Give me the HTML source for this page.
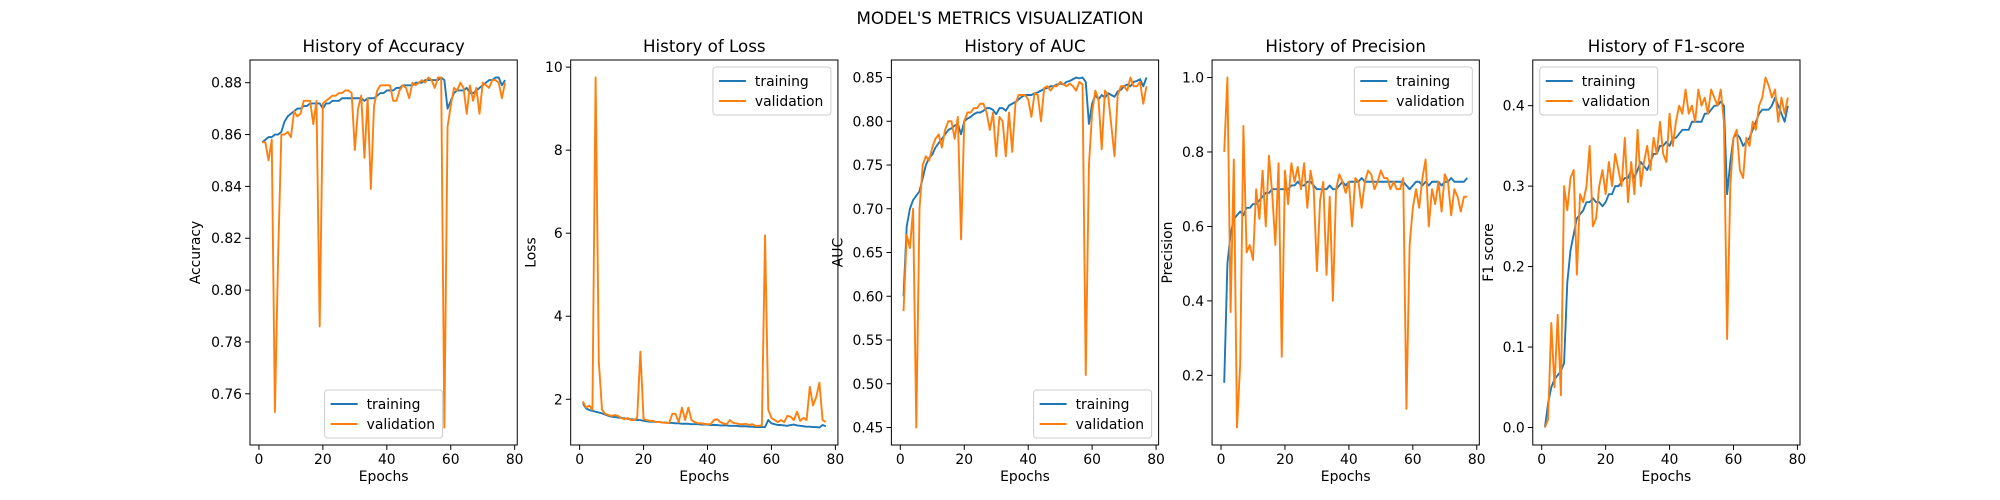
<!DOCTYPE html>
<html><head><meta charset="utf-8"><style>
html,body{margin:0;padding:0;background:#fff}
svg{display:block;font-family:"DejaVu Sans","Liberation Sans",sans-serif}
</style></head><body>
<svg id="fig" width="2000" height="500" viewBox="0 0 2000 500" xmlns="http://www.w3.org/2000/svg">
<text x="1000" y="24" text-anchor="middle" font-size="16.7">MODEL'S METRICS VISUALIZATION</text>
</svg>
<script>
const epochs = Array.from({length:77},(_,i)=>i+1);
const accTrain=[.857,.858,.859,.859,.860,.860,.861,.865,.867,.868,.869,.870,.870,.871,.871,.872,.872,.872,.872,.870,.872,.872,.873,.873,.873,.874,.874,.874,.874,.874,.874,.874,.873,.874,.874,.874,.875,.876,.876,.877,.877,.877,.878,.878,.879,.879,.879,.879,.880,.880,.880,.881,.881,.881,.881,.881,.882,.881,.870,.873,.876,.877,.877,.877,.878,.876,.876,.877,.878,.879,.880,.881,.881,.882,.882,.879,.881];
const accVal=[.857,.857,.850,.858,.753,.813,.860,.860,.861,.859,.869,.867,.868,.873,.873,.873,.864,.873,.786,.872,.873,.874,.875,.875,.876,.876,.877,.877,.876,.854,.870,.875,.851,.874,.839,.871,.877,.879,.879,.879,.879,.873,.873,.877,.879,.878,.874,.880,.879,.880,.881,.880,.882,.881,.878,.882,.882,.747,.863,.871,.878,.877,.880,.878,.868,.879,.873,.878,.868,.880,.879,.878,.881,.881,.880,.874,.880];
const lossTrain=[1.90,1.78,1.74,1.72,1.70,1.68,1.66,1.63,1.60,1.58,1.57,1.56,1.55,1.54,1.53,1.52,1.51,1.50,1.50,1.48,1.47,1.46,1.46,1.45,1.45,1.44,1.44,1.43,1.43,1.42,1.42,1.41,1.41,1.41,1.40,1.40,1.40,1.39,1.39,1.39,1.38,1.38,1.38,1.37,1.37,1.37,1.36,1.36,1.36,1.35,1.35,1.35,1.34,1.34,1.33,1.33,1.33,1.33,1.50,1.42,1.40,1.38,1.38,1.37,1.36,1.38,1.39,1.37,1.36,1.35,1.34,1.34,1.33,1.33,1.32,1.38,1.35];
const lossVal=[1.95,1.80,1.85,1.75,9.75,2.90,1.75,1.65,1.62,1.60,1.62,1.60,1.55,1.52,1.55,1.50,1.50,1.55,3.15,1.52,1.50,1.48,1.48,1.45,1.45,1.44,1.43,1.43,1.65,1.65,1.45,1.80,1.50,1.80,1.50,1.45,1.42,1.42,1.41,1.40,1.40,1.50,1.52,1.45,1.42,1.40,1.50,1.43,1.42,1.40,1.40,1.41,1.38,1.40,1.36,1.36,1.37,5.95,1.75,1.55,1.50,1.45,1.50,1.45,1.60,1.58,1.50,1.70,1.48,1.55,1.50,2.30,1.85,2.05,2.40,1.50,1.45];
const aucTrain=[.600,.680,.700,.710,.715,.720,.735,.750,.758,.762,.770,.775,.780,.785,.790,.792,.795,.797,.785,.800,.803,.805,.808,.810,.810,.812,.815,.815,.813,.808,.815,.815,.812,.818,.820,.822,.825,.828,.830,.830,.830,.832,.833,.835,.837,.838,.840,.840,.842,.843,.842,.845,.846,.848,.850,.849,.850,.845,.797,.820,.830,.825,.830,.827,.832,.830,.828,.834,.836,.840,.842,.840,.845,.846,.848,.840,.850];
const aucVal=[.583,.670,.655,.700,.450,.700,.750,.760,.755,.770,.780,.785,.770,.790,.800,.800,.780,.805,.665,.800,.810,.810,.815,.815,.820,.820,.810,.790,.810,.760,.805,.800,.760,.810,.765,.820,.830,.830,.830,.825,.805,.832,.830,.800,.838,.840,.835,.840,.840,.845,.842,.840,.843,.840,.835,.845,.842,.510,.750,.810,.835,.825,.768,.835,.830,.795,.760,.830,.840,.840,.835,.850,.840,.840,.845,.820,.840];
const precTrain=[.18,.50,.58,.62,.63,.64,.63,.65,.65,.66,.66,.67,.68,.69,.69,.70,.70,.70,.70,.70,.70,.71,.71,.72,.71,.71,.72,.72,.71,.70,.70,.70,.70,.71,.70,.70,.71,.72,.71,.72,.72,.72,.72,.73,.72,.72,.72,.72,.72,.72,.72,.72,.72,.72,.72,.72,.72,.71,.70,.71,.72,.72,.71,.72,.71,.72,.72,.72,.71,.72,.72,.73,.72,.72,.72,.72,.73];
const precVal=[.80,1.00,.37,.78,.06,.23,.87,.53,.55,.51,.70,.62,.75,.60,.79,.69,.55,.77,.25,.75,.66,.77,.72,.76,.70,.77,.65,.75,.70,.48,.67,.72,.47,.68,.40,.70,.74,.72,.69,.72,.60,.73,.72,.65,.72,.75,.74,.70,.72,.75,.73,.73,.70,.72,.70,.70,.73,.11,.55,.65,.70,.65,.73,.78,.60,.70,.66,.72,.64,.74,.72,.63,.70,.68,.64,.68,.68];
const f1Train=[.00,.03,.05,.06,.065,.07,.08,.18,.22,.24,.26,.265,.27,.28,.28,.285,.28,.28,.275,.28,.29,.29,.30,.30,.305,.31,.31,.32,.31,.32,.33,.325,.32,.33,.34,.34,.35,.35,.355,.35,.36,.36,.365,.37,.37,.37,.38,.38,.38,.38,.39,.39,.395,.40,.40,.405,.40,.29,.33,.36,.365,.36,.35,.355,.36,.37,.38,.39,.395,.395,.395,.40,.41,.40,.39,.38,.40];
const f1Val=[.00,.01,.13,.05,.14,.04,.30,.27,.31,.32,.19,.29,.28,.30,.35,.25,.26,.30,.32,.29,.33,.30,.34,.32,.30,.36,.28,.33,.29,.37,.30,.33,.35,.32,.36,.34,.38,.34,.33,.39,.35,.38,.40,.39,.42,.39,.40,.38,.42,.40,.41,.39,.42,.41,.40,.42,.38,.11,.30,.36,.37,.32,.31,.36,.35,.38,.37,.40,.41,.435,.425,.41,.42,.38,.41,.39,.41];
const xTicks=[0,20,40,60,80];
const accTicks=[0.76,0.78,0.80,0.82,0.84,0.86,0.88];
const lossTicks=[2,4,6,8,10];
const aucTicks=[0.45,0.50,0.55,0.60,0.65,0.70,0.75,0.80,0.85];
const precTicks=[0.2,0.4,0.6,0.8,1.0];
const f1Ticks=[0.0,0.1,0.2,0.3,0.4];

const NS="http://www.w3.org/2000/svg";
const svg=document.getElementById('fig');
function mk(tag,attrs,parent){const e=document.createElementNS(NS,tag);for(const k in attrs)e.setAttribute(k,attrs[k]);(parent||svg).appendChild(e);return e;}
const W=267.24,G=53.45,TOP=60,BOT=445;
const panels=[
 {key:'accuracy',title:'History of Accuracy',yl:'Accuracy',tr:accTrain,va:accVal,ticks:accTicks,dec:2,leg:'lc',lab:55},
 {key:'loss',title:'History of Loss',yl:'Loss',tr:lossTrain,va:lossVal,ticks:lossTicks,dec:0,leg:'ur',lab:40},
 {key:'auc',title:'History of AUC',yl:'AUC',tr:aucTrain,va:aucVal,ticks:aucTicks,dec:2,leg:'lr',lab:54},
 {key:'precision',title:'History of Precision',yl:'Precision',tr:precTrain,va:precVal,ticks:precTicks,dec:1,leg:'ur',lab:45},
 {key:'f1',title:'History of F1-score',yl:'F1 score',tr:f1Train,va:f1Val,ticks:f1Ticks,dec:1,leg:'ul',lab:45}
];
panels.forEach((p,i)=>{
 const L=250+i*(W+G),R=L+W;
 const g=mk('g',{});
 
 
 const all=p.tr.concat(p.va);
 let mn=Math.min(...all),mx=Math.max(...all),m=(mx-mn)*0.05;mn-=m;mx+=m;
 const x0=1-76*0.05,x1=77+76*0.05;
 const sx=v=>L+(v-x0)/(x1-x0)*W, sy=v=>BOT-(v-mn)/(mx-mn)*(BOT-TOP);
 const t=mk('text',{x:(L+R)/2,y:TOP-8,'text-anchor':'middle','font-size':16.7},g);t.textContent=p.title;
 
 
 xTicks.forEach(v=>{const x=sx(v);mk('line',{x1:x,x2:x,y1:BOT,y2:BOT+4.9,stroke:'#000','stroke-width':1},g);
  const tx=mk('text',{x:x,y:BOT+19,'text-anchor':'middle','font-size':13.9},g);tx.textContent=v;
  
  });
 p.ticks.forEach(v=>{const y=sy(v);mk('line',{x1:L-4.9,x2:L,y1:y,y2:y,stroke:'#000','stroke-width':1},g);
  const ty=mk('text',{x:L-8,y:y+5,'text-anchor':'end','font-size':13.9},g);ty.textContent=v.toFixed(p.dec);
  
  });
 const xl=mk('text',{x:(L+R)/2,y:BOT+36,'text-anchor':'middle','font-size':13.9},g);xl.textContent='Epochs';
 
 
 const cy=(TOP+BOT)/2,lx=L-p.lab+5;
 const yl=mk('text',{x:lx,y:cy,'text-anchor':'middle','font-size':13.9,transform:`rotate(-90 ${lx} ${cy})`},g);yl.textContent=p.yl;
 
 
 [[p.tr,'#1f77b4','training'],[p.va,'#ff7f0e','validation']].forEach(([d,c,n])=>{
  const pts=d.map((v,j)=>sx(epochs[j]).toFixed(2)+','+sy(v).toFixed(2)).join(' ');
  const pl=mk('polyline',{points:pts,fill:'none',stroke:c,'stroke-width':1.9,'stroke-linejoin':'round'},g);
  
  
 });
 mk('rect',{x:L,y:TOP,width:W,height:BOT-TOP,fill:'none',stroke:'#000','stroke-width':1},g);
 const lw=118,lh=48;let bx,by;
 if(p.leg==='ur'){bx=R-lw-7;by=TOP+7;}else if(p.leg==='ul'){bx=L+7;by=TOP+7;}
 else if(p.leg==='lr'){bx=R-lw-7;by=BOT-lh-7;}else{bx=(L+R)/2-lw/2;by=BOT-lh-7;}
 const lg=mk('g',{},g);
 
 
 mk('rect',{x:bx,y:by,width:lw,height:lh,rx:3,fill:'#fff','fill-opacity':0.8,stroke:'#ccc'},lg);
 [['training','#1f77b4'],['validation','#ff7f0e']].forEach(([n,c],k)=>{
  const yy=by+14+k*20;
  mk('line',{x1:bx+6,x2:bx+33,y1:yy,y2:yy,stroke:c,'stroke-width':1.9},lg);
  const lt=mk('text',{x:bx+42,y:yy+5,'font-size':13.9},lg);lt.textContent=n;
  
  
 });
});
</script>
</body></html>
